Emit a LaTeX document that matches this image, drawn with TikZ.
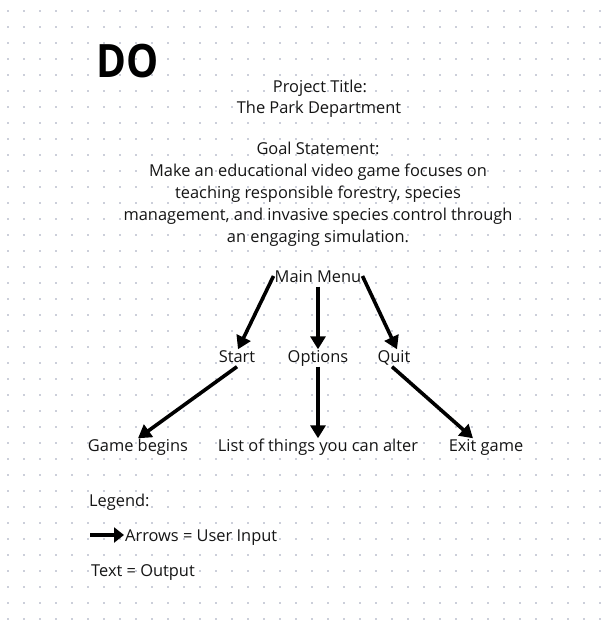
\documentclass[tikz,border=0pt]{standalone}
\usepackage{fontspec}
\setmainfont{Open Sans}
\usetikzlibrary{arrows.meta}
\definecolor{dotc}{HTML}{CCCFDA}
\definecolor{txt}{HTML}{151515}
\begin{document}
\begin{tikzpicture}[x=1pt,y=-1pt,
 lbl/.style={font=\fontsize{16.4}{19}\selectfont, text=txt, inner sep=1pt, text height=11.5pt, text depth=3.5pt},
 arr/.style={line width=3.6pt, draw=black, -{Triangle[length=13pt,width=15pt]}},
]
\fill[white] (0,0) rectangle (613,627);
\useasboundingbox (0,0) rectangle (613,627);
\foreach \i in {0,...,37}{\foreach \j in {0,...,38}{
  \fill[dotc] (8+16*\i,11+16*\j) ++(-1,-1) rectangle ++(2,2);}}
\node[font=\fontsize{46}{50}\selectfont\bfseries, text=black, inner sep=0pt] (do) at (128,61) {\scalebox{0.88}[1]{DO}};
\node[lbl] (t1) at (320,88) {Project Title:};
\node[lbl] (t2) at (319,109) {The Park Department};
\node[lbl] (g1) at (318,150) {Goal Statement:};
\node[lbl] (g2) at (318,172) {Make an educational video game focuses on};
\node[lbl] (g3) at (318,194) {teaching responsible forestry, species};
\node[lbl] (g4) at (318,216) {management, and invasive species control through};
\node[lbl] (g5) at (318,238) {an engaging simulation.};
\node[lbl] (mm) at (318,278) {Main Menu};
\node[lbl] (st) at (237,358) {Start};
\node[lbl] (op) at (318,358) {Options};
\node[lbl] (qu) at (394,358) {Quit};
\node[lbl] (gb) at (138,447) {Game begins};
\node[lbl] (li) at (318,447) {List of things you can alter};
\node[lbl] (ex) at (486,447) {Exit game};
\node[lbl, anchor=west] (lg) at (88,502) {Legend:};
\node[lbl, anchor=west] (lt) at (124,537) {Arrows = User Input};
\node[lbl, anchor=west] (lo) at (90,572) {Text = Output};
\coordinate (la) at (90,535);
\draw[arr] ([yshift=2pt]mm.west) -- ([xshift=1pt]st.north);
\draw[arr] (mm.south) -- (op.north);
\draw[arr] ([yshift=2pt]mm.east) -- ([xshift=3pt]qu.north);
\draw[arr] (st.south) -- (gb.north);
\draw[arr] (op.south) -- (li.north);
\draw[arr] ([xshift=-2pt]qu.south) -- ([xshift=-13pt]ex.north);
\draw[line width=4pt, -{Triangle[length=10pt,width=15pt]}] (la) -- ([yshift=2pt]lt.west);
\end{tikzpicture}
\end{document}
